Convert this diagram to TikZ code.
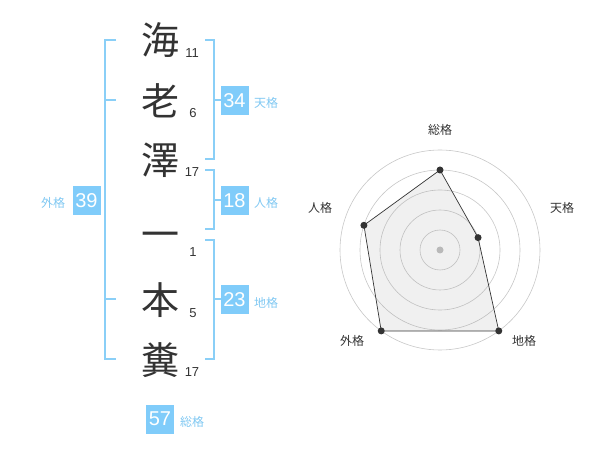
\documentclass[tikz,border=0pt]{standalone}
\usetikzlibrary{calc}
\usepackage{fontspec}
\setmainfont{Liberation Sans}
\newfontfamily\cjk{Noto Sans CJK JP}
\definecolor{brk}{HTML}{8ACFF7}
\definecolor{boxc}{HTML}{80CCFA}
\definecolor{lblc}{HTML}{80C8F2}
\definecolor{ink}{HTML}{333333}
\begin{document}
\begin{tikzpicture}[x=1pt,y=-1pt,
  bigch/.style={font=\cjk\fontsize{38}{38}\selectfont, text=ink, inner sep=0pt},
  strk/.style={font=\fontsize{13}{13}\selectfont, text=ink, inner sep=0pt},
  valbox/.style={fill=boxc, text=white, font=\fontsize{20}{20}\selectfont, minimum width=28pt, minimum height=29pt, inner sep=0pt},
  lbl/.style={font=\cjk\fontsize{12}{12}\selectfont, text=lblc, inner sep=0pt},
  bracket/.style={draw=brk, line width=1.6pt},
  ring/.style={draw=black!22, line width=0.6pt},
  rlbl/.style={font=\cjk\fontsize{12}{12}\selectfont, text=ink, inner sep=0pt},
  dot/.style={circle, fill=ink, inner sep=0pt, minimum size=7pt}
]
\useasboundingbox (0,0) rectangle (600,470);
% characters
\node[bigch] (c1) at (160,40) {海};
\node[bigch] (c2) at (160,101) {老};
\node[bigch] (c3) at (160,160) {澤};
\node[bigch] (c4) at (160,240) {一};
\node[bigch] (c5) at (160,300) {本};
\node[bigch] (c6) at (160,360) {糞};
% stroke counts
\node[strk] (n1) at (192,53) {11};
\node[strk] (n2) at (193,113) {6};
\node[strk] (n3) at (192,172) {17};
\node[strk] (n4) at (193,252) {1};
\node[strk] (n5) at (193,313) {5};
\node[strk] (n6) at (192,372) {17};
% left bracket (gaikaku)
\draw[bracket] (116,40) -- (105,40) -- (105,359) -- (116,359);
\draw[bracket] (105,100) -- (116,100);
\draw[bracket] (105,299) -- (116,299);
\node[valbox] (v39) at (86.5,200.5) {39};
\node[lbl] (l39) at (53,203) {外格};
% right brackets
\draw[bracket] (205,40) -- (214,40) -- (214,159) -- (205,159);
\draw[bracket] (214,100) -- (221,100);
\node[valbox] (v34) at (234.5,100.5) {34};
\node[lbl] (l34) at (266,103) {天格};
\draw[bracket] (205,170) -- (214,170) -- (214,229) -- (205,229);
\draw[bracket] (214,200) -- (221,200);
\node[valbox] (v18) at (234.5,200.5) {18};
\node[lbl] (l18) at (266,203) {人格};
\draw[bracket] (205,240) -- (214,240) -- (214,359) -- (205,359);
\draw[bracket] (214,299) -- (221,299);
\node[valbox] (v23) at (234.5,300) {23};
\node[lbl] (l23) at (266,303) {地格};
\node[valbox] (v57) at (160,419) {57};
\node[lbl] (l57) at (192,422) {総格};
% radar
\coordinate (ctr) at (440,250);
\foreach \r in {20,40,60,80,100} \draw[ring] (ctr) circle (\r);
\fill[black!25] (ctr) circle (3.5);
\coordinate (pS) at ($(ctr)+(-90:80)$);
\coordinate (pT) at ($(ctr)+(-18:40)$);
\coordinate (pC) at ($(ctr)+(54:100)$);
\coordinate (pG) at ($(ctr)+(126:100)$);
\coordinate (pJ) at ($(ctr)+(-162:80)$);
\filldraw[fill=black!40, fill opacity=0.15, draw=ink, line width=0.7pt] (pS) -- (pT) -- (pC) -- (pG) -- (pJ) -- cycle;
\foreach \p in {pS,pT,pC,pG,pJ} \node[dot] at (\p) {};
\node[rlbl] (rS) at (440,130) {総格};
\node[rlbl] (rT) at (562,208) {天格};
\node[rlbl] (rC) at (524,341) {地格};
\node[rlbl] (rG) at (352,341) {外格};
\node[rlbl] (rJ) at (320,208) {人格};
\end{tikzpicture}
\end{document}
